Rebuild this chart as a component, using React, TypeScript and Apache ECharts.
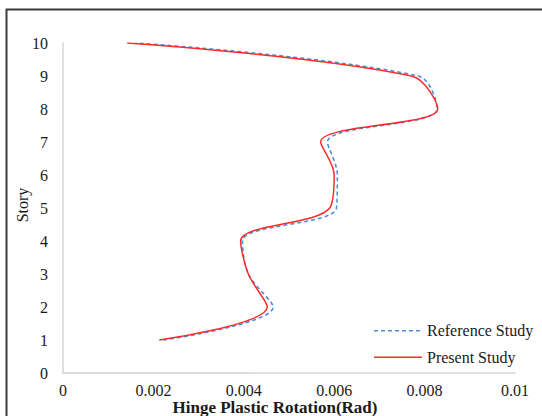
import React, { useEffect, useRef } from "react";
import * as echarts from "echarts";

const stories = [1, 2, 3, 4, 5, 6, 7, 8, 9, 10];
const presentStudy = [0.00213, 0.00452, 0.0041, 0.00393, 0.0059, 0.006, 0.0057, 0.00829, 0.00771, 0.00142];
const referenceStudy = [0.00222, 0.00465, 0.0041, 0.00397, 0.00605, 0.00607, 0.00585, 0.00828, 0.00786, 0.0016];
const xTicks = ["0", "0.002", "0.004", "0.006", "0.008", "0.01"];
const seriesNames = ["Reference Study", "Present Study"];

const FONT = "'Liberation Serif', 'Times New Roman', serif";
const BLUE = "#4a90d9";
const RED = "#ff2a2a";
const TEXT = "#1a1a1a";

export default function App() {
  const ref = useRef<HTMLDivElement>(null);
  useEffect(() => {
    if (!ref.current) return;
    const chart = echarts.init(ref.current, undefined, { renderer: "svg" });
    const option = {
      animation: false,
      backgroundColor: "#ffffff",
      grid: { left: 63, right: 27, top: 43, bottom: 43, containLabel: false },
      xAxis: {
        type: "value",
        min: 0,
        max: 0.01,
        interval: 0.002,
        splitLine: { show: false },
        axisTick: { show: false },
        axisLine: { show: true, lineStyle: { color: "#d4d4d4", width: 1.5 } },
        axisLabel: {
          margin: 9,
          fontFamily: FONT,
          fontSize: 16,
          color: TEXT,
          formatter: (v: number) => xTicks[Math.round(v / 0.002)] ?? String(v),
        },
      },
      yAxis: {
        type: "value",
        min: 0,
        max: 10,
        interval: 1,
        splitLine: { show: false },
        axisTick: { show: false },
        axisLine: { show: true, lineStyle: { color: "#d4d4d4", width: 1.5 } },
        axisLabel: { margin: 15, fontFamily: FONT, fontSize: 16, color: TEXT },
      },
      graphic: [
        {
          type: "rect",
          silent: true,
          shape: { x: 6.5, y: 9.5, width: 700, height: 600 },
          style: { fill: "none", stroke: "#3a3a3a", lineWidth: 2 },
        },
        {
          type: "text",
          x: 275,
          y: 407,
          style: {
            text: "Hinge Plastic Rotation(Rad)",
            fontFamily: FONT,
            fontSize: 17,
            fontWeight: "bold",
            fill: TEXT,
            align: "center",
            verticalAlign: "middle",
          },
        },
        {
          type: "text",
          x: 22,
          y: 205,
          rotation: Math.PI / 2,
          style: {
            text: "Story",
            fontFamily: FONT,
            fontSize: 16,
            fill: TEXT,
            align: "center",
            verticalAlign: "middle",
          },
        },
        {
          type: "line",
          shape: { x1: 374, y1: 330.7, x2: 421, y2: 330.7 },
          style: { stroke: BLUE, lineWidth: 1.6, lineDash: [4, 3] },
        },
        {
          type: "text",
          x: 427,
          y: 330.5,
          style: { text: seriesNames[0], fontFamily: FONT, fontSize: 16, fill: TEXT, align: "left", verticalAlign: "middle" },
        },
        {
          type: "line",
          shape: { x1: 374, y1: 357.3, x2: 422, y2: 357.3 },
          style: { stroke: RED, lineWidth: 1.6 },
        },
        {
          type: "text",
          x: 427,
          y: 357,
          style: { text: seriesNames[1], fontFamily: FONT, fontSize: 16, fill: TEXT, align: "left", verticalAlign: "middle" },
        },
      ],
      series: [
        {
          name: seriesNames[0],
          type: "line",
          smooth: 0.35,
          symbol: "none",
          lineStyle: { color: BLUE, width: 1.6, type: [4, 3] },
          itemStyle: { color: BLUE },
          data: stories.map((s, i) => [referenceStudy[i], s]),
          z: 2,
        },
        {
          name: seriesNames[1],
          type: "line",
          smooth: 0.35,
          symbol: "none",
          lineStyle: { color: RED, width: 1.5 },
          itemStyle: { color: RED },
          data: stories.map((s, i) => [presentStudy[i], s]),
          z: 3,
        },
      ],
    };
    chart.setOption(option as any);
    return () => chart.dispose();
  }, []);
  return (
    <div
      ref={ref}
      style={{ position: "absolute", left: 0, top: 0, width: 542, height: 416, background: "#fff" }}
    />
  );
}
